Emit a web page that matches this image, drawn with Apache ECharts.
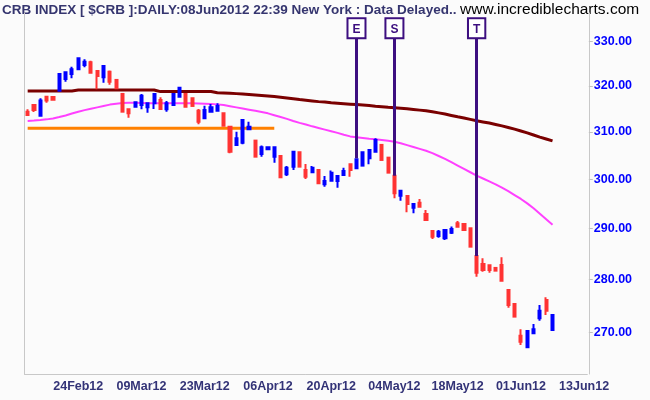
<!DOCTYPE html>
<html>
<head>
<meta charset="utf-8">
<script src="https://cdn.jsdelivr.net/npm/echarts@6/dist/echarts.min.js"></script>
<style>html,body{margin:0;padding:0;background:#fbfbfb;}#c{width:650px;height:400px;}</style>
</head>
<body>
<div id="c"></div>
<script>
// ---- data ----
const tickLabels = ['24Feb12','09Mar12','23Mar12','06Apr12','20Apr12','04May12','18May12','01Jun12','13Jun12'];
const tickIndex  = [8, 18, 28, 38, 48, 58, 68, 78, 88];
const slotCount = 89;
const priceTicks = [270, 280, 290, 300, 310, 320, 330];

const open = [314.36,315.82,313.50,317.64,317.58,318.95,321.54,322.65,323.70,324.65,
  325.26,323.32,321.92,323.16,321.32,318.23,314.88,315.45,315.82,315.32,
  316.20,316.92,314.88,315.82,317.64,318.23,317.29,314.58,312.94,314.36,
  314.58,314.02,311.13,307.24,307.72,310.57,308.15,305.32,306.32,304.76,
  304.90,301.08,302.67,305.69,301.98,301.50,301.98,299.01,299.75,299.69,
  300.94,303.17,302.33,302.88,304.42,305.82,307.24,304.55,300.78,296.67,
  296.61,294.23,295.24,292.96,289.54,288.54,288.09,289.20,291.08,290.94,
  290.07,284.58,283.03,282.77,282.25,282.83,278.00,275.32,269.37,267.23,
  269.81,272.63,276.09,270.43];
const close = [313.65,314.73,316.77,316.77,316.98,322.65,323.03,323.70,326.16,325.39,
  322.94,322.21,324.43,320.94,319.48,314.36,314.02,316.42,317.86,316.20,
  318.23,314.95,316.20,318.23,319.61,315.45,315.61,312.21,314.73,315.32,
  315.61,311.35,305.82,308.65,312.58,311.13,304.76,306.75,306.75,306.75,
  300.46,302.46,305.78,302.67,300.58,302.46,299.22,299.69,301.42,300.73,
  301.77,301.98,304.21,305.69,306.18,308.29,304.07,301.42,297.17,297.70,
  294.97,294.97,294.43,291.75,288.40,289.40,289.73,289.93,290.40,289.73,
  286.42,281.32,281.86,281.86,281.72,279.78,275.13,272.93,268.26,270.24,
  270.56,274.05,274.05,273.25];
const high = [314.88,315.82,317.29,317.86,317.58,322.65,323.03,324.28,326.16,325.94,
  325.62,323.54,324.43,323.39,321.32,318.23,314.88,316.55,318.23,316.20,
  318.23,317.51,316.70,318.23,319.83,318.23,317.29,314.95,315.67,316.04,
  316.20,314.02,311.28,310.05,312.58,312.21,308.15,307.09,306.75,306.75,
  304.90,302.81,305.78,305.69,303.23,302.81,301.98,300.73,301.84,300.73,
  302.46,303.17,304.42,305.69,306.18,308.65,307.24,304.55,300.78,297.70,
  296.61,294.97,296.00,293.76,289.54,289.73,289.93,290.42,291.55,291.08,
  290.07,284.58,284.14,282.77,282.25,284.33,278.00,275.32,270.56,270.24,
  271.56,275.13,276.60,273.25];
const low = [313.65,314.30,313.50,316.33,316.98,318.74,320.94,321.70,323.70,324.14,
  322.94,319.26,320.72,320.28,319.48,314.36,313.07,315.45,314.88,314.15,
  314.95,314.95,314.36,315.61,317.64,315.23,315.61,311.65,312.94,314.36,
  314.58,311.13,305.48,307.24,307.38,310.57,304.76,304.76,306.32,303.50,
  300.46,300.73,301.98,302.67,300.10,301.50,299.01,298.52,299.75,298.32,
  300.94,300.58,302.33,302.88,303.17,305.82,304.07,301.42,296.14,295.65,
  293.30,293.10,294.43,291.55,287.95,288.21,287.75,288.94,290.19,289.60,
  286.42,280.55,281.52,281.32,281.72,279.59,274.62,272.93,267.65,267.23,
  269.81,272.17,273.25,270.29];
const maLong = [318.9,318.9,318.9,318.9,318.9,318.9,318.9,318.9,319.1,319.1,
  319.1,319.1,319.1,319.1,319.1,319.1,319.1,319.1,319.1,319.1,
  319.1,318.75,318.75,318.75,318.75,318.75,318.75,318.75,318.75,318.75,
  318.5,318.45,318.4,318.3,318.2,318.1,318.0,317.9,317.8,317.65,
  317.5,317.35,317.2,317.0,316.85,316.7,316.55,316.45,316.3,316.2,
  316.1,316.0,315.9,315.8,315.7,315.55,315.45,315.3,315.2,315.1,
  315.0,314.85,314.7,314.55,314.35,314.1,313.85,313.55,313.25,313.0,
  312.7,312.4,312.15,311.9,311.6,311.3,310.95,310.6,310.2,309.8,
  309.35,308.9,308.5,308.1];
const maShort = [312.36,312.45,312.55,312.7,312.9,313.2,313.55,313.95,314.35,314.7,
  315.0,315.3,315.6,315.9,316.1,316.25,316.3,316.3,316.25,316.2,
  316.2,316.2,316.2,316.2,316.2,316.2,316.2,316.15,316.1,316.05,
  315.95,315.8,315.55,315.3,315.05,314.8,314.55,314.3,314.0,313.6,
  313.2,312.8,312.35,311.95,311.6,311.2,310.85,310.5,310.15,309.8,
  309.4,309.05,308.85,308.7,308.55,308.45,308.3,308.1,307.9,307.6,
  307.2,306.8,306.4,306.0,305.5,304.9,304.3,303.6,302.9,302.2,
  301.5,300.8,300.2,299.6,299.0,298.3,297.6,296.8,296.0,295.1,
  294.1,293.0,291.9,290.8];
const supportLevel = 310.8;
const supportEnd = 39;
const markerNames = ['E', 'S', 'T'];
const markerIndex = [52, 58, 71];
const markerTop = 330.7;
const axisBottom = 262.34, axisTop = 336.5;

// ---- build ----
const L = Math.log;
const cats = Array.from({length: slotCount}, (_, i) => String(i));
const labelMap = {};
tickIndex.forEach((ix, k) => labelMap[ix] = tickLabels[k]);
const showTick = (idx) => labelMap[idx] !== undefined;
const candle = open.map((o, i) => [L(o), L(close[i]), L(low[i]), L(high[i])]);
const support = [];
for (let i = 0; i <= supportEnd; i++) support.push(L(supportLevel));
const purple = '#3d0f80';
const markLines = markerNames.map((n, k) => [
  {coord: [markerIndex[k], L(markerTop)], label: {formatter: n}},
  {coord: [markerIndex[k], L(high[markerIndex[k]])]}
]);

const chart = echarts.init(document.getElementById('c'), null, {renderer: 'canvas'});
chart.setOption({
  animation: false,
  backgroundColor: '#fbfbfb',
  graphic: [
    {type: 'text', left: 2, top: 3, style: {text: 'CRB INDEX [ $CRB ]:DAILY:08Jun2012 22:39 New York : Data Delayed..', fill: '#35356f', font: 'bold 13.5px "Liberation Sans"'}},
    {type: 'text', left: 460, top: 2, style: {text: 'www.incrediblecharts.com', fill: '#000', font: '15.5px "Liberation Sans"'}}
  ],
  grid: {left: 24.5, right: 62.7, top: 13, bottom: 26, containLabel: false},
  xAxis: {
    type: 'category', data: cats, boundaryGap: true,
    axisLine: {lineStyle: {color: '#c8c8c8'}},
    axisTick: {alignWithLabel: true, interval: showTick, length: 4, lineStyle: {color: '#c0c0c0'}},
    axisLabel: {interval: showTick, formatter: (v, i) => labelMap[i] || '', color: '#333377', fontWeight: 'bold', fontSize: 12.5, fontFamily: 'Liberation Sans', margin: 6},
    splitLine: {show: false}
  },
  yAxis: [
    {
      type: 'value', position: 'right', offset: 1.5, min: L(axisBottom), max: L(axisTop), scale: true,
      axisLine: {show: true, lineStyle: {color: '#c8c8c8'}},
      axisTick: {show: true, customValues: priceTicks.map(L), length: 4, lineStyle: {color: '#c0c0c0'}},
      axisLabel: {customValues: priceTicks.map(L), formatter: v => Math.exp(v).toFixed(2), color: '#0000ff', fontWeight: 'bold', fontSize: 12.5, fontFamily: 'Liberation Sans', margin: 5},
      splitLine: {show: false}
    },
    {
      type: 'value', position: 'left', min: L(axisBottom), max: L(axisTop),
      axisLine: {show: true, lineStyle: {color: '#c8c8c8'}},
      axisTick: {show: false}, axisLabel: {show: false}, splitLine: {show: false}
    }
  ],
  series: [
    {type: 'line', data: maLong.map(L), symbol: 'none', lineStyle: {color: '#7a0000', width: 3}, z: 2},
    {type: 'line', data: maShort.map(L), symbol: 'none', lineStyle: {color: '#ff40ff', width: 2}, z: 2},
    {type: 'line', data: support, symbol: 'none', lineStyle: {color: '#ff8000', width: 3}, z: 2},
    {
      type: 'candlestick', data: candle, barWidth: 2.6, z: 3,
      itemStyle: {color: '#0000ff', color0: '#ff3333', borderColor: '#0000ff', borderColor0: '#ff3333', borderWidth: 2},
      markLine: {
        silent: true, symbol: ['none', 'none'], animation: false,
        lineStyle: {color: purple, width: 3, type: 'solid'},
        label: {show: true, position: 'start', distance: 1, color: purple, fontWeight: 'bold', fontSize: 12, fontFamily: 'Liberation Sans',
          backgroundColor: '#ffffff', borderColor: purple, borderWidth: 2, padding: [4, 4, 2, 4], lineHeight: 12},
        data: markLines
      }
    }
  ]
});
</script>
</body>
</html>
